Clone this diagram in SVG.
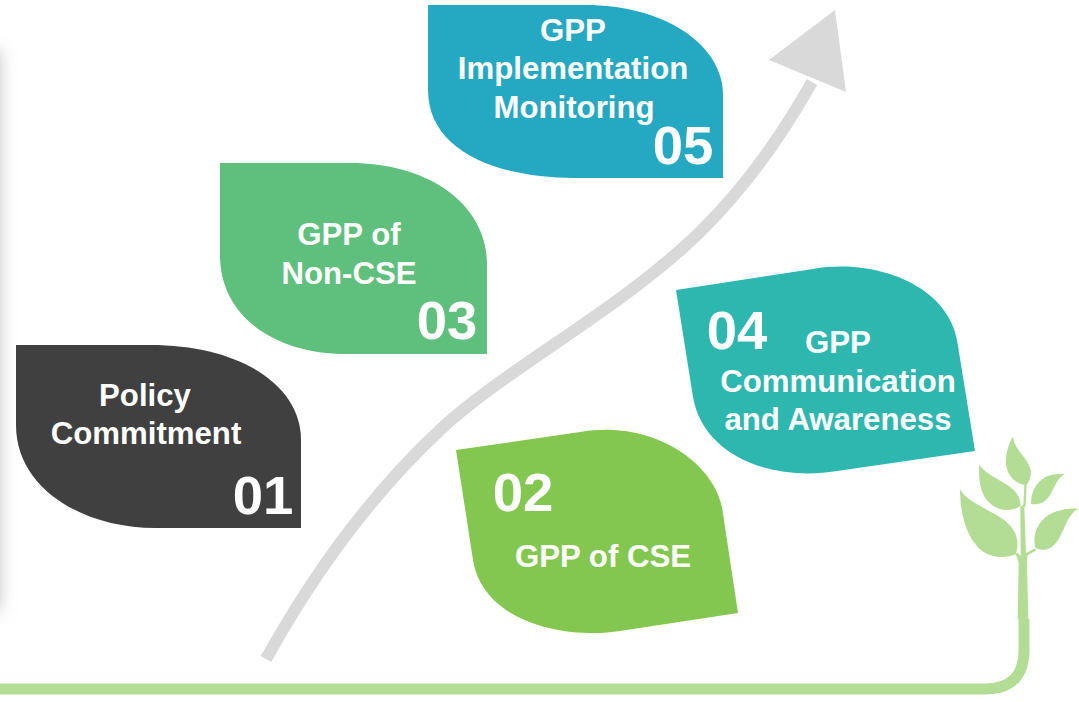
<svg xmlns="http://www.w3.org/2000/svg" width="1079" height="702" viewBox="0 0 1079 702">
<style>
text{font-family:"Liberation Sans",Arial,sans-serif;font-weight:700;fill:#fff;text-anchor:middle}
.l{font-size:31.2px}
.n{font-size:54.5px}
.plant{fill:#b3dd94}
</style>
<defs><filter id="blur" x="-300%" y="-10%" width="700%" height="120%"><feGaussianBlur stdDeviation="9"/></filter></defs>
<rect width="1079" height="702" fill="#fff"/>
<rect x="-24" y="50" width="22" height="560" fill="#b8b8b8" filter="url(#blur)"/>
<g id="connectors">
<path d="M0 689H985Q1024 689 1024 650V619" fill="none" stroke="#b3dd94" stroke-width="11"/>
<path d="M266 659C310 580 365 500 440 430C505 369 620 310 700 232C750 183 785 130 812 82" fill="none" stroke="#d9d9d9" stroke-width="12"/>
<polygon points="835,10 769,60 846,92" fill="#d9d9d9"/>
</g>
<g id="plant" class="plant" transform="translate(930 420) scale(.3333)">
<path d="M90 208C110 245 170 265 215 295C250 320 265 345 262 385L258 402C230 415 190 415 160 395C115 365 90 290 90 208Z"/>
<path d="M148 133C165 165 215 180 245 205C265 222 272 240 272 258C245 275 205 275 180 250C150 225 145 175 148 133Z"/>
<path d="M248 50C255 90 295 115 302 150C304 170 298 185 290 195C265 195 235 175 228 135C225 105 235 75 248 50Z"/>
<path d="M405 163C385 170 375 200 360 225C345 250 325 255 303 252C303 220 315 190 345 172C365 162 385 160 405 163Z"/>
<path d="M447 266C420 275 410 310 390 350C370 390 340 395 317 385C305 350 320 310 355 285C385 268 420 263 447 266Z"/>
<path d="M263 597L266 430Q265 415 255 402L262 398L272 408L271 260L280 255L283 195L290 195L287 257L283 262L288 400L315 385L318 392L293 405Q290 415 291 430L295 597Z"/>
</g>
<g id="node-01">
<path d="M16 345H150C240 345 301 385 301 440V528H155C85 528 16 490 16 425Z" fill="#404040"/>
<text class="l" x="145" y="406">Policy</text><text class="l" x="146" y="444">Commitment</text>
<text class="n" x="263" y="514">01</text>
</g>
<g id="node-02">
<path d="M456 450L580 432C650 420 712 460 722 507L738 613L620 631C570 639 484 625 473 560Z" fill="#84c750"/>
<text class="n" x="523" y="511">02</text>
<text class="l" x="603" y="567">GPP of CSE</text>
</g>
<g id="node-03">
<path d="M220 163H350C430 163 487 205 487 265V354H345C280 354 220 320 220 255Z" fill="#5fbf7d"/>
<text class="l" x="349" y="245">GPP of</text><text class="l" x="349" y="284">Non-CSE</text>
<text class="n" x="447" y="339">03</text>
</g>
<g id="node-04">
<path d="M676 290L813 269C875 258 947 285 957 340L975 451L837 471C770 482 703 455 693 397Z" fill="#2db7af"/>
<text class="n" x="737" y="349">04</text>
<text class="l" x="838" y="353">GPP</text><text class="l" x="838" y="392">Communication</text><text class="l" x="838" y="430">and Awareness</text>
</g>
<g id="node-05">
<path d="M428 5H585C665 5 723 45 723 95V178H575C495 178 428 150 428 90Z" fill="#25a9c3"/>
<text class="l" x="573" y="41">GPP</text><text class="l" x="573" y="79">Implementation</text><text class="l" x="574" y="118">Monitoring</text>
<text class="n" x="683" y="164">05</text>
</g>
</svg>
